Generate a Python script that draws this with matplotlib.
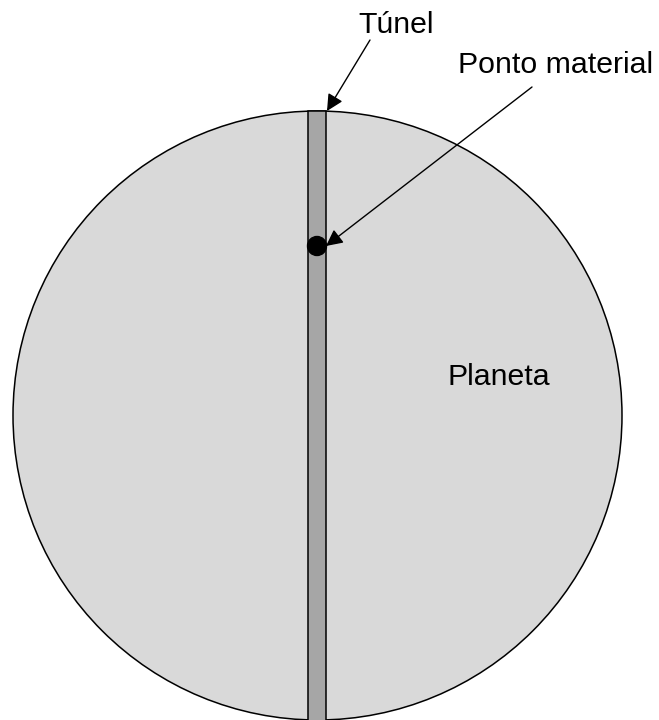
import matplotlib.pyplot as plt
from matplotlib.patches import Circle, Rectangle

# geometry in pixel units (y grows downward)
planet_center = (317.5, 415.5)
planet_radius = 304.5
tunnel_x = (308, 326)
tunnel_y = (111, 725)
point_pos = (317, 246)
point_radius = 9.5

labels = ["Túnel", "Ponto material", "Planeta"]
label_pos = [(358, 33), (458, 73), (447, 385)]
arrow_from = [(370, 40), (532, 87)]
arrow_to = [(327, 111), (326, 246)]

fig = plt.figure(figsize=(6.59, 7.2), dpi=100)
ax = fig.add_axes([0, 0, 1, 1])
ax.set_xlim(0, 659)
ax.set_ylim(720, 0)
ax.set_aspect("equal")
ax.axis("off")

ax.add_patch(Circle(planet_center, planet_radius, facecolor="#d9d9d9",
                    edgecolor="black", lw=1.1, zorder=1))
tun = Rectangle((tunnel_x[0], tunnel_y[0]), tunnel_x[1] - tunnel_x[0],
                tunnel_y[1] - tunnel_y[0], facecolor="#a6a6a6",
                edgecolor="black", lw=1.1, zorder=2)
ax.add_patch(tun)
ax.add_patch(Circle(point_pos, point_radius, facecolor="black",
                    edgecolor="black", zorder=3))

for txt, (x, y) in zip(labels, label_pos):
    ax.text(x, y, txt, fontsize=21.8, family="Liberation Sans",
            ha="left", va="baseline", zorder=4)

for a, b in zip(arrow_from, arrow_to):
    ax.annotate("", xy=b, xytext=a,
                arrowprops=dict(arrowstyle="-|>", color="black", lw=1,
                                mutation_scale=25, shrinkA=0, shrinkB=0),
                zorder=5)

fig.savefig("out.png", dpi=100)
